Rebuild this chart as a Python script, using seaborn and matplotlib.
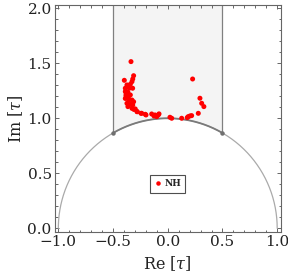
import numpy as np
import pandas as pd
import matplotlib
matplotlib.use("Agg")
import matplotlib.pyplot as plt
from matplotlib.ticker import MultipleLocator
import seaborn as sns

# ---- data ----
re_tau = [-0.336, -0.397, -0.312, -0.320, -0.327, -0.373, -0.342, -0.388, -0.352, -0.321,
          -0.388, -0.364, -0.382, -0.342, -0.388, -0.357, -0.327, -0.312, -0.373, -0.342,
          -0.364, -0.327, -0.297, -0.281, -0.245, -0.205, -0.320, -0.309, -0.279, -0.238,
          -0.199, -0.147, -0.117, -0.087, -0.101, -0.126, -0.080, 0.020, 0.036, 0.127,
          0.178, 0.187, 0.218, 0.203, 0.279, 0.227, 0.294, 0.310, 0.330, -0.380, -0.360]
im_tau = [1.515, 1.345, 1.387, 1.357, 1.333, 1.303, 1.309, 1.273, 1.273, 1.273,
          1.243, 1.236, 1.206, 1.212, 1.180, 1.166, 1.166, 1.150, 1.136, 1.127,
          1.106, 1.090, 1.085, 1.060, 1.045, 1.036, 1.120, 1.080, 1.060, 1.045,
          1.030, 1.039, 1.030, 1.030, 1.015, 1.021, 1.040, 1.009, 1.000, 1.000,
          1.006, 1.015, 1.024, 1.021, 1.045, 1.357, 1.182, 1.136, 1.106, 1.220, 1.190]
series_label = "NH"

# fundamental domain parameters
strip_left, strip_right = -0.5, 0.5
radius = 1.0
y_top = 2.1

x_ticks = [-1.0, -0.5, 0.0, 0.5, 1.0]
y_ticks = [0.0, 0.5, 1.0, 1.5, 2.0]

sns.set_style("ticks")
plt.rcParams['font.family'] = ['DejaVu Serif']
plt.rcParams['mathtext.fontset'] = 'dejavuserif'

fig = plt.figure(figsize=(2.88, 2.80), dpi=100)
ax = fig.add_axes([54.5 / 288, 48 / 280, 226.2 / 288, 226.7 / 280])

# shaded fundamental domain
xs = np.linspace(strip_left, strip_right, 200)
arc_in = np.sqrt(radius**2 - xs**2)
ax.fill_between(xs, arc_in, y_top, color="#f4f4f4", lw=0, zorder=0)
ax.plot([strip_left, strip_left], [np.sqrt(radius**2 - strip_left**2), y_top],
        color="#808080", lw=0.9, zorder=1)
ax.plot([strip_right, strip_right], [np.sqrt(radius**2 - strip_right**2), y_top],
        color="#808080", lw=0.9, zorder=1)

# full semicircle (light) and domain arc (dark)
th = np.linspace(0, np.pi, 400)
circ = pd.DataFrame({"x": radius * np.cos(th), "y": radius * np.sin(th)})
ax.plot(circ["x"], circ["y"], color="#aaaaaa", lw=0.9, zorder=1)
ax.plot(xs, arc_in, color="#7a7a7a", lw=1.3, zorder=1)
ax.plot([strip_left, strip_right], [np.sqrt(radius**2 - 0.25)] * 2, ls="none",
        marker="o", ms=2.2, color="#707070", zorder=2)

df = pd.DataFrame({"Re": re_tau, "Im": im_tau, "set": series_label})
sns.scatterplot(data=df, x="Re", y="Im", hue="set", palette=["#ff0000"],
                s=13, linewidth=0, ax=ax, zorder=3)

ax.set_xlim(-1.035, 1.032)
ax.set_ylim(-0.034, 2.027)
ax.set_xticks(x_ticks)
ax.set_yticks(y_ticks)
ax.set_xticklabels([f"{v:.1f}".replace("-", "\u2212") for v in x_ticks])
ax.set_yticklabels([f"{v:.1f}" for v in y_ticks])
ax.xaxis.set_minor_locator(MultipleLocator(0.1))
ax.yaxis.set_minor_locator(MultipleLocator(0.1))
ax.tick_params(which="both", direction="in", top=True, right=True,
               color="#666666", width=0.7, labelsize=11, labelcolor="#222222", pad=2)
ax.tick_params(which="major", length=3.2)
ax.tick_params(which="minor", length=1.8)
for sp in ax.spines.values():
    sp.set_color("#666666")
    sp.set_linewidth(0.8)

ax.set_xlabel("Re [$\\tau$]", fontsize=11.5, color="#222222", labelpad=4)
ax.set_ylabel("Im [$\\tau$]", fontsize=11.5, color="#222222", labelpad=2)

leg = ax.legend(loc="center", bbox_to_anchor=(0.5, 0.213), frameon=True,
                fancybox=False, prop={"weight": "bold", "size": 6.5},
                handletextpad=0.3, borderpad=0.5, handlelength=0.8, markerscale=0.9)
leg.get_frame().set_edgecolor("#222222")
leg.get_frame().set_linewidth(0.8)

fig.savefig("out.png", dpi=100)
